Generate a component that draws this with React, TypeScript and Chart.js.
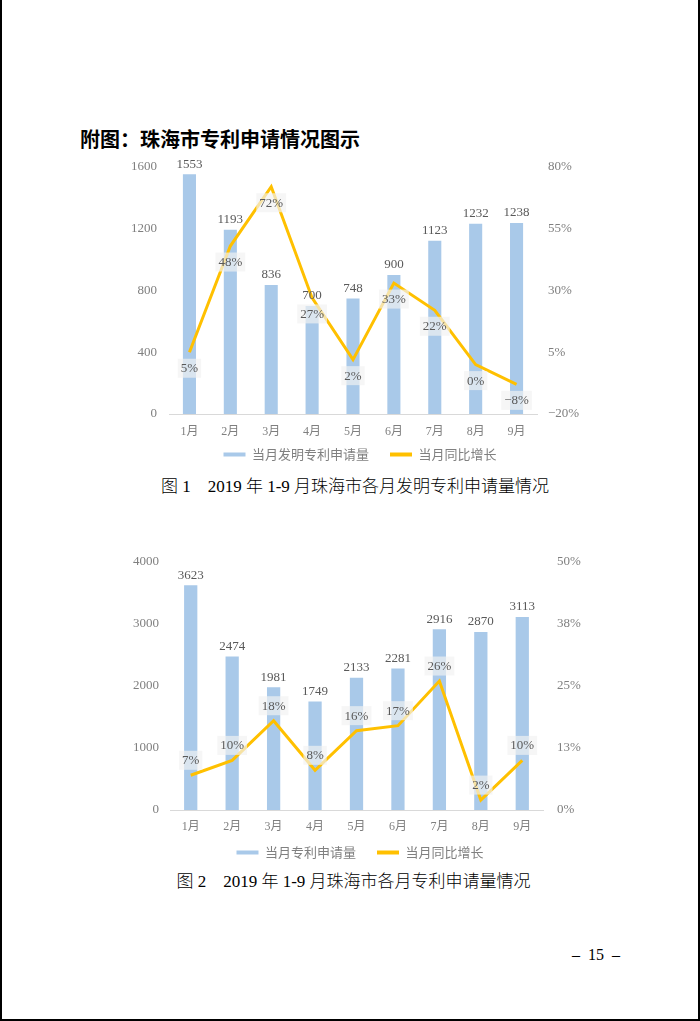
import React, { useEffect, useRef } from "react";
import { Chart, registerables } from "chart.js";

Chart.register(...registerables);

const months = ["1月", "2月", "3月", "4月", "5月", "6月", "7月", "8月", "9月"];

const inventionApps = [1553, 1193, 836, 700, 748, 900, 1123, 1232, 1238];
const inventionGrowth = [5, 48, 72, 27, 2, 33, 22, 0, -8];

const patentApps = [3623, 2474, 1981, 1749, 2133, 2281, 2916, 2870, 3113];
const patentGrowth = [7, 10, 18, 8, 16, 17, 26, 2, 10];

const legend1 = ["当月发明专利申请量", "当月同比增长"];
const legend2 = ["当月专利申请量", "当月同比增长"];

const BAR_COLOR = "#a9c9e9";
const LINE_COLOR = "#ffc000";
const SERIF = '"Liberation Serif", "Noto Sans CJK SC", serif';
const CJK = '"Noto Sans CJK SC", sans-serif';

const LEGEND_PAD = 8;
const LEGEND_H = 13 + LEGEND_PAD + 10;

type ChartProps = {
  left: number;
  top: number;
  width: number;
  height: number;
  plotLeft: number;
  plotRight: number;
  plotTop: number;
  plotBottom: number;
  bars: number[];
  line: number[];
  names: string[];
  leftMax: number;
  leftStep: number;
  rightMin: number;
  rightMax: number;
  rightStep: number;
  leftPad: number;
  rightPad: number;
  xPad: number;
  lineLabelOffset: number;
};

function fmtPct(v: number) {
  const r = Math.round(v);
  return (r < 0 ? "\u2212" + Math.abs(r) : String(r)) + "%";
}

function ComboChart(p: ChartProps) {
  const ref = useRef<HTMLCanvasElement | null>(null);
  useEffect(() => {
    if (!ref.current) return;
    const leftW = p.plotLeft - p.left;
    const rightW = p.left + p.width - p.plotRight;
    const xH = p.top + p.height - LEGEND_H - p.plotBottom;

    const labelPlugin = {
      id: "valueLabels",
      afterDatasetsDraw(chart: any) {
        const ctx = chart.ctx;
        ctx.save();
        const barMeta = chart.getDatasetMeta(0);
        ctx.font = "13px " + SERIF;
        ctx.fillStyle = "#595959";
        ctx.textAlign = "center";
        ctx.textBaseline = "middle";
        barMeta.data.forEach((el: any, i: number) => {
          ctx.fillText(String(p.bars[i]), el.x, el.y - 10);
        });
        const lineMeta = chart.getDatasetMeta(1);
        lineMeta.data.forEach((el: any, i: number) => {
          const txt = fmtPct(p.line[i]);
          const w = ctx.measureText(txt).width + 6;
          const h = 19;
          const cy = el.y + p.lineLabelOffset;
          ctx.fillStyle = "rgba(242,242,242,0.68)";
          ctx.fillRect(el.x - w / 2, cy - h / 2, w, h);
          ctx.fillStyle = "#595959";
          ctx.fillText(txt, el.x, cy + 0.5);
        });
        ctx.restore();
      },
    };

    const chart = new Chart(ref.current, {
      type: "bar",
      data: {
        labels: months,
        datasets: [
          {
            type: "bar",
            label: p.names[0],
            data: p.bars,
            backgroundColor: BAR_COLOR,
            yAxisID: "y",
            order: 1,
            categoryPercentage: 1,
            barPercentage: 0.32,
          } as any,
          {
            type: "line",
            label: p.names[1],
            data: p.line,
            borderColor: LINE_COLOR,
            backgroundColor: LINE_COLOR,
            borderWidth: 3,
            pointRadius: 0,
            tension: 0,
            yAxisID: "y1",
            order: 0,
          } as any,
        ],
      },
      options: {
        responsive: false,
        animation: false,
        layout: { padding: { top: p.plotTop - p.top, left: 0, right: 0, bottom: 0 } },
        plugins: {
          tooltip: { enabled: false },
          legend: {
            display: true,
            position: "bottom",
            labels: {
              boxWidth: 22,
              boxHeight: 4,
              padding: LEGEND_PAD,
              color: "#808080",
              font: { size: 13, family: CJK },
              generateLabels: (c: any) =>
                c.data.datasets.map((d: any, i: number) => ({
                  text: i === 0 ? d.label + "\u3000" : d.label,
                  fillStyle: i === 0 ? BAR_COLOR : LINE_COLOR,
                  strokeStyle: i === 0 ? BAR_COLOR : LINE_COLOR,
                  lineWidth: 0,
                  hidden: false,
                  datasetIndex: i,
                  fontColor: "#808080",
                })),
            },
          },
        },
        scales: {
          x: {
            grid: { display: false, drawTicks: false },
            border: { display: true, color: "#d9d9d9", width: 1 },
            ticks: { color: "#7f7f7f", font: { size: 12, family: SERIF }, padding: p.xPad },
            afterFit: (s: any) => {
              s.height = xH;
            },
          },
          y: {
            position: "left",
            min: 0,
            max: p.leftMax,
            grid: { display: false, drawTicks: false },
            border: { display: false },
            ticks: {
              stepSize: p.leftStep,
              color: "#7f7f7f",
              font: { size: 13, family: SERIF },
              padding: p.leftPad,
              callback: (v: any) => String(v),
            },
            afterFit: (s: any) => {
              s.width = leftW;
            },
          },
          y1: {
            position: "right",
            min: p.rightMin,
            max: p.rightMax,
            grid: { display: false, drawTicks: false },
            border: { display: false },
            ticks: {
              stepSize: p.rightStep,
              color: "#7f7f7f",
              font: { size: 13, family: SERIF },
              padding: p.rightPad,
              callback: (v: any) => fmtPct(Number(v)),
            },
            afterFit: (s: any) => {
              s.width = rightW;
            },
          },
        },
      } as any,
      plugins: [labelPlugin],
    });
    return () => chart.destroy();
  }, []);
  return (
    <canvas
      ref={ref}
      width={p.width}
      height={p.height}
      style={{ position: "absolute", left: p.left, top: p.top, width: p.width, height: p.height }}
    />
  );
}

export default function App() {
  const abs = (s: React.CSSProperties): React.CSSProperties => ({ position: "absolute", ...s });
  return (
    <div style={{ position: "absolute", left: 0, top: 0, width: 700, height: 1021, background: "#fff", overflow: "hidden" }}>
      <div style={abs({ left: 0, top: 0, width: 2, height: 1021, background: "#000" })} />
      <div style={abs({ left: 698, top: 0, width: 2, height: 1021, background: "#000" })} />
      <div style={abs({ left: 0, top: 1019, width: 700, height: 2, background: "#000" })} />

      <div
        style={abs({
          left: 80,
          top: 125,
          lineHeight: "28px",
          fontSize: 20,
          fontWeight: 700,
          fontFamily: CJK,
          color: "#000",
          whiteSpace: "nowrap",
        })}
      >
        附图：珠海市专利申请情况图示
      </div>

      <ComboChart
        left={100}
        top={140}
        width={520}
        height={331}
        plotLeft={169}
        plotRight={537}
        plotTop={167}
        plotBottom={414}
        bars={inventionApps}
        line={inventionGrowth}
        names={legend1}
        leftMax={1600}
        leftStep={400}
        rightMin={-20}
        rightMax={80}
        rightStep={25}
        leftPad={12}
        rightPad={11}
        xPad={11}
        lineLabelOffset={16}
      />

      <div
        style={abs({
          left: 0,
          width: 710,
          top: 475,
          lineHeight: "24px",
          textAlign: "center",
          fontSize: 17,
          fontWeight: 300,
          fontFamily: SERIF,
          color: "#000",
          whiteSpace: "pre",
        })}
      >
        {"图 1\u30002019 年 1-9 月珠海市各月发明专利申请量情况"}
      </div>

      <ComboChart
        left={100}
        top={535}
        width={520}
        height={334}
        plotLeft={170}
        plotRight={543}
        plotTop={562}
        plotBottom={810}
        bars={patentApps}
        line={patentGrowth}
        names={legend2}
        leftMax={4000}
        leftStep={1000}
        rightMin={0}
        rightMax={50}
        rightStep={12.5}
        leftPad={11}
        rightPad={14}
        xPad={10}
        lineLabelOffset={-15}
      />

      <div
        style={abs({
          left: 0,
          width: 707,
          top: 870,
          lineHeight: "24px",
          textAlign: "center",
          fontSize: 17,
          fontWeight: 300,
          fontFamily: SERIF,
          color: "#000",
          whiteSpace: "pre",
        })}
      >
        {"图 2\u30002019 年 1-9 月珠海市各月专利申请量情况"}
      </div>

      <div
        style={abs({
          left: 572,
          top: 944,
          lineHeight: "22px",
          fontSize: 16,
          fontFamily: SERIF,
          color: "#000",
          whiteSpace: "pre",
        })}
      >
        {"–  15  –"}
      </div>
    </div>
  );
}
